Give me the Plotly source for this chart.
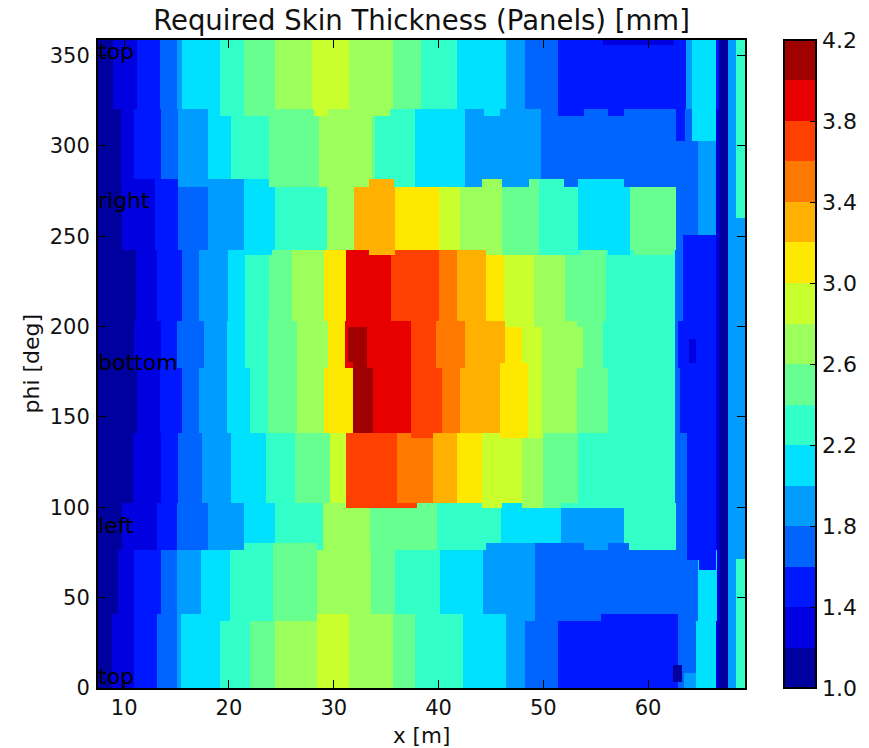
import plotly.graph_objects as go

# Skin thickness [mm] per panel band.
PHI_EDGES = [0, 37.2, 76.4, 102.2, 141.3, 176.9, 203.3, 242.4, 277.4, 320.4, 358.6]
X_START = 7.5
X_END = 69.25

ROW1_X = [8.80,10.94,13.17,15.02,15.43,19.16,21.96,24.35,28.40,31.49,35.67,37.74,42.36,46.41,48.26,51.41,62.88,64.57,66.48,66.80,67.60,68.40,69.25]
ROW1_T = [1.1,1.3,1.5,1.7,1.9,2.1,2.3,2.5,2.7,2.9,2.7,2.5,2.3,2.1,1.9,1.7,1.5,1.7,2.1,1.3,1.1,1.9,2.3]
ROW2_X = [9.44,10.94,13.49,15.08,17.31,20.12,24.19,28.40,33.60,35.83,40.10,44.24,49.18,64.73,66.58,66.90,67.60,68.40,69.25]
ROW2_T = [1.1,1.3,1.5,1.7,1.9,2.1,2.3,2.5,2.7,2.5,2.3,2.1,1.9,1.7,2.1,1.3,1.1,1.9,2.3]
ROW3_X = [9.76,13.17,15.08,18.04,21.39,24.42,28.97,33.50,39.87,45.99,51.73,57.72,62.66,63.68,66.48,66.80,67.60,69.25]
ROW3_T = [1.1,1.3,1.5,1.7,1.9,2.1,2.3,2.7,2.5,2.3,2.1,1.9,2.3,1.7,1.5,1.3,1.1,1.9]
ROW4_X = [10.87,13.49,15.18,17.41,20.18,23.52,26.33,29.68,31.17,35.99,39.46,41.79,44.11,48.00,50.01,53.35,62.56,63.68,66.48,66.80,67.60,69.25]
ROW4_T = [1.1,1.3,1.5,1.7,1.9,2.1,2.3,2.5,2.9,3.7,3.5,3.3,3.1,2.9,2.7,2.5,2.3,1.7,1.5,1.3,1.1,1.9]
ROW5_X = [11.19,13.42,15.56,17.15,19.80,21.96,23.68,26.49,29.04,31.81,33.76,37.42,40.29,42.01,45.83,48.57,49.91,53.26,56.19,62.56,63.07,66.48,66.80,67.60,69.25]
ROW5_T = [1.1,1.3,1.5,1.7,1.9,2.1,2.3,2.5,2.7,3.1,4.1,3.9,3.7,3.5,3.3,3.1,2.9,2.7,2.5,2.3,1.7,1.5,1.3,1.1,1.9]
ROW6_X = [10.97,13.49,15.02,17.66,19.80,21.49,23.68,26.49,29.42,31.11,31.37,33.18,37.42,39.78,42.49,46.31,48.00,49.91,53.80,55.65,62.56,62.82,66.48,66.80,67.60,69.25]
ROW6_T = [1.1,1.3,1.5,1.7,1.9,2.1,2.3,2.5,2.7,3.1,3.9,4.1,3.9,3.7,3.5,3.3,3.1,2.9,2.7,2.5,2.3,1.7,1.5,1.3,1.1,1.9]
ROW7_X = [11.10,13.10,15.56,17.15,19.86,21.55,23.78,26.01,29.04,31.17,35.51,40.03,41.79,44.56,46.25,49.12,52.05,56.03,62.56,63.30,66.48,66.80,67.60,69.25]
ROW7_T = [1.1,1.3,1.5,1.7,1.9,2.1,2.3,2.5,2.7,3.1,3.9,3.7,3.5,3.3,3.1,2.9,2.7,2.5,2.3,1.7,1.5,1.3,1.1,1.9]
ROW8_X = [9.76,12.94,15.18,18.04,21.39,24.42,29.36,31.91,35.80,40.03,42.01,46.02,49.59,53.35,58.26,62.66,64.80,66.48,66.80,67.60,68.40,69.25]
ROW8_T = [1.1,1.3,1.5,1.7,1.9,2.1,2.3,2.7,3.3,3.1,2.9,2.7,2.5,2.3,2.1,2.5,1.7,1.9,1.3,1.1,1.9,2.3]
ROW9_X = [9.69,10.97,13.52,15.18,17.98,20.21,23.78,28.62,33.66,33.90,37.80,42.49,49.75,62.66,63.55,64.16,66.48,66.80,67.60,68.40,69.25]
ROW9_T = [1.1,1.3,1.5,1.7,1.9,2.1,2.3,2.5,2.7,2.5,2.3,2.1,1.9,1.7,1.5,1.7,2.1,1.3,1.1,1.9,2.3]
ROW10_X = [8.96,11.19,13.42,15.02,15.49,19.16,21.45,24.35,27.92,31.49,35.67,38.28,41.79,46.41,48.26,51.41,63.62,64.16,66.48,66.80,67.60,68.40,69.25]
ROW10_T = [1.1,1.3,1.5,1.7,1.9,2.1,2.3,2.5,2.7,2.9,2.7,2.5,2.3,2.1,1.9,1.7,1.5,1.9,2.1,1.5,1.1,1.9,2.3]

ROWS_X = [ROW1_X, ROW2_X, ROW3_X, ROW4_X, ROW5_X, ROW6_X, ROW7_X, ROW8_X, ROW9_X, ROW10_X]
ROWS_T = [ROW1_T, ROW2_T, ROW3_T, ROW4_T, ROW5_T, ROW6_T, ROW7_T, ROW8_T, ROW9_T, ROW10_T]

# Local panels (x0, x1, phi0, phi1, thickness) that overlap the bands.
LOCAL_PANELS = [
    (19.16,20.21,316.5,320.4,2.3),(21.45,23.78,316.5,320.4,2.5),(28.08,29.42,316.5,320.4,2.9),
    (33.66,35.41,316.5,320.4,2.7),(44.34,45.83,316.5,320.4,2.1),(48.86,49.75,316.5,320.4,1.9),
    (51.41,53.90,316.5,320.4,1.5),(56.13,57.72,316.5,320.4,1.5),
    (62.66,64.80,277.4,302.7,1.7),(64.80,66.48,277.4,302.7,1.9),
    (10.97,12.94,277.4,281.5,1.3),(12.94,15.18,277.4,281.5,1.5),(17.98,21.39,277.4,281.5,1.9),
    (21.39,23.78,277.4,281.5,2.1),(33.34,35.73,277.4,281.5,3.3),(44.18,46.09,277.4,281.5,2.7),
    (48.64,49.59,277.4,281.5,2.5),(49.59,51.98,277.4,281.5,2.3),(53.35,57.72,277.4,281.5,2.1),
    (63.30,66.48,242.4,250.7,1.5),(68.40,69.25,242.4,260.3,1.9),
    (19.96,24.10,239.6,242.4,2.1),(33.34,35.89,239.6,242.4,3.3),(44.56,46.02,239.6,242.4,2.7),
    (46.02,49.59,239.6,242.4,2.5),(49.59,53.58,239.6,242.4,2.3),(56.19,58.26,239.6,242.4,2.1),
    (58.68,62.34,239.6,242.4,2.5),
    (31.17,33.18,199.6,203.3,3.9),(46.31,48.00,199.6,203.3,2.9),(49.12,49.91,199.6,203.3,2.7),
    (53.26,53.80,199.6,203.3,2.5),
    (63.87,64.57,179.7,192.9,1.3),
    (31.11,31.81,176.9,180.6,3.9),(45.83,46.31,176.9,179.7,3.1),(48.00,48.57,176.9,179.7,3.1),
    (37.42,39.46,138.2,141.3,3.7),(45.83,48.57,138.2,141.3,3.1),(48.57,50.01,138.2,141.3,2.9),
    (31.17,37.96,99.4,102.2,3.7),(44.11,46.09,99.4,102.2,2.9),(48.00,50.01,99.4,102.2,2.7),
    (50.01,51.73,99.4,102.2,2.5),(51.73,57.72,99.4,102.2,2.3),
    (21.39,24.19,76.4,80.1,2.3),(24.19,28.40,76.4,80.1,2.5),(44.56,49.18,76.4,80.1,1.9),
    (49.18,53.90,76.4,80.1,1.7),(56.13,58.20,76.4,80.1,1.7),
    (63.68,66.48,70.8,76.4,1.5),(64.89,66.48,65.3,70.8,1.5),(68.40,69.25,71.6,76.4,1.9),
    (8.80,9.44,37.2,41.0,1.3),(13.17,13.49,37.2,41.0,1.7),(15.43,19.16,37.2,41.0,2.1),
    (28.40,31.49,37.2,41.0,2.9),(31.49,35.67,37.2,41.0,2.7),(35.67,37.74,37.2,41.0,2.5),
    (40.10,42.36,37.2,41.0,2.3),(42.36,46.41,37.2,41.0,2.1),(46.41,48.26,37.2,41.0,1.9),
    (55.55,62.88,37.2,41.0,1.5),
    (62.40,63.20,3.5,12.7,1.1),(63.46,64.57,0,8.1,1.9),
    (55.65,62.50,355.8,358.6,1.3),
]

LEVEL_MIN = 1.0
LEVEL_MAX = 4.2
LEVEL_COLORS = ["#00009f", "#0000e0", "#0018ff", "#0064ff", "#009cff", "#00e0ff", "#33ffc8", "#66ff90",
                "#9cff5c", "#c8ff2c", "#ffe800", "#ffb000", "#ff7800", "#ff4000", "#e80000", "#a00000"]
CBAR_TICKS = [1.0, 1.4, 1.8, 2.2, 2.6, 3.0, 3.4, 3.8, 4.2]
X_TICKS = [10, 20, 30, 40, 50, 60]
PHI_TICKS = [0, 50, 100, 150, 200, 250, 300, 350]
SIDE_LABELS = ["top", "left", "bottom", "right", "top"]
SIDE_LABEL_PHI = [6.5, 90, 180, 270, 352.5]

# Build the cell grid
x_edges = sorted({X_START} | {v for r in ROWS_X for v in r} | {p[0] for p in LOCAL_PANELS} | {p[1] for p in LOCAL_PANELS})
y_edges = sorted(set(PHI_EDGES) | {p[2] for p in LOCAL_PANELS} | {p[3] for p in LOCAL_PANELS})
z = []
for j in range(len(y_edges) - 1):
    yc = (y_edges[j] + y_edges[j + 1]) / 2
    r = next(k for k in range(len(ROWS_X)) if PHI_EDGES[k] <= yc < PHI_EDGES[k + 1])
    line = []
    for i in range(len(x_edges) - 1):
        xc = (x_edges[i] + x_edges[i + 1]) / 2
        v = next(t for e, t in zip(ROWS_X[r], ROWS_T[r]) if xc < e)
        for x0, x1, p0, p1, t in LOCAL_PANELS:
            if x0 <= xc < x1 and p0 <= yc < p1:
                v = t
        line.append(v)
    z.append(line)

n = len(LEVEL_COLORS)
colorscale = []
for k, c in enumerate(LEVEL_COLORS):
    colorscale += [[k / n, c], [(k + 1) / n, c]]

W, H = 869, 748
L, R, T, B = 98, 124, 40, 60
font = "DejaVu Sans"
ink = "#111"

fig = go.Figure(go.Heatmap(
    x=x_edges, y=y_edges, z=z, zmin=LEVEL_MIN, zmax=LEVEL_MAX, colorscale=colorscale, hoverinfo="skip",
    colorbar=dict(
        thickness=32, thicknessmode="pixels", len=1, lenmode="fraction", xref="container", x=784 / W, xanchor="left", xpad=0,
        y=0.5, yanchor="middle", ypad=0, outlinecolor="black", outlinewidth=2,
        ticks="inside", ticklen=7, tickcolor="black", tickwidth=1, tickvals=CBAR_TICKS, tickformat=".1f",
        tickfont=dict(family=font, size=22, color=ink), borderwidth=0),
))
for s, p in zip(SIDE_LABELS, SIDE_LABEL_PHI):
    fig.add_annotation(x=X_START, y=p, text=s, showarrow=False, xanchor="left", yanchor="middle", xshift=-2,
                       font=dict(family=font, size=22, color="#000"))
fig.add_annotation(xref="paper", yref="paper", x=0.5, y=0, yshift=-47, text="x [m]", showarrow=False,
                   xanchor="center", yanchor="middle", font=dict(family=font, size=21.5, color=ink))
fig.add_annotation(xref="paper", yref="paper", x=0, y=0.5008, xshift=-67, text="phi [deg]", textangle=-90, showarrow=False,
                   xanchor="center", yanchor="middle", font=dict(family=font, size=22, color=ink))
axis = dict(showline=True, linecolor="black", linewidth=2, mirror="allticks", ticks="inside", ticklen=8,
            tickcolor="black", tickwidth=1, showgrid=False, zeroline=False, automargin=False,
            tickfont=dict(family=font, size=21, color=ink))
fig.update_xaxes(range=[X_START, X_END], tickvals=X_TICKS, **axis)
fig.update_yaxes(range=[0, 358.6], tickvals=PHI_TICKS, ticklabelstandoff=2, **axis)
fig.update_layout(
    width=W, height=H, margin=dict(l=L, r=R, t=T, b=B, pad=0), paper_bgcolor="white", plot_bgcolor="white",
    title=dict(text="Required Skin Thickness (Panels) [mm]", x=(98 + 647 / 2) / W, xanchor="center",
               y=1 - 20 / H, yanchor="middle", font=dict(family=font, size=27.5, color=ink)),
    showlegend=False,
)
fig.write_html("out.html", config={"displayModeBar": False},
               post_script="document.body.style.margin='0';document.documentElement.style.overflow='hidden';")
